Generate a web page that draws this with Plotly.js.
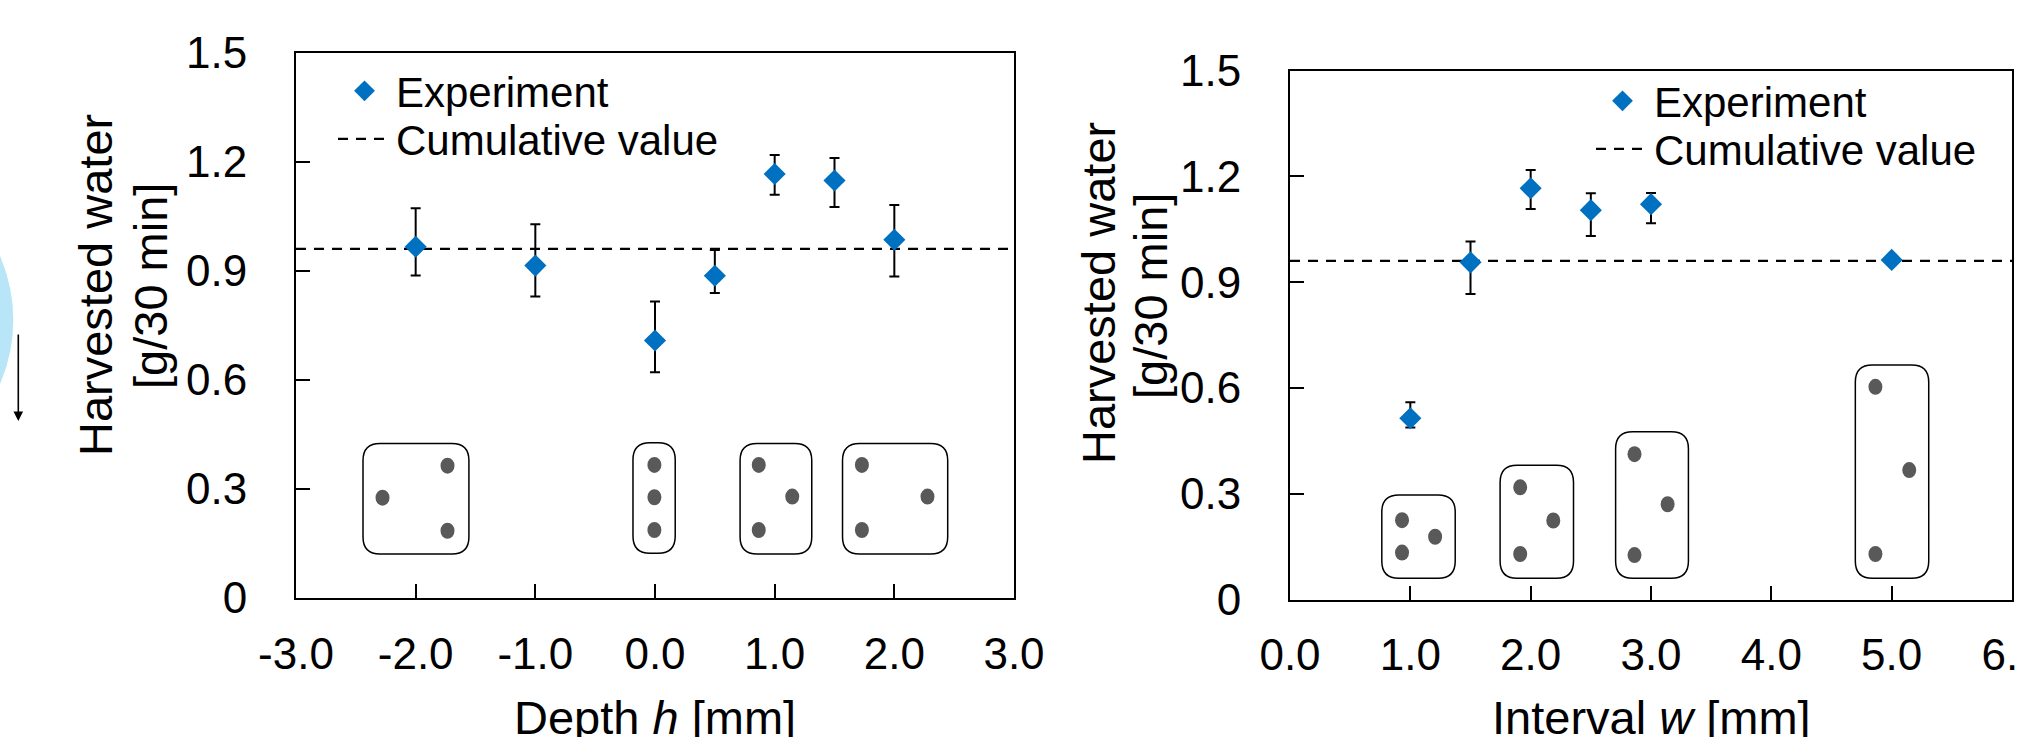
<!DOCTYPE html>
<html>
<head>
<meta charset="utf-8">
<script src="https://cdn.plot.ly/plotly-3.0.1.min.js"></script>
<style>
  html, body { margin: 0; padding: 0; background: #ffffff; }
  #chart { width: 2018px; height: 737px; }
</style>
</head>
<body>
<div id="chart"></div>
<script>
// ---------------- DATA ----------------
// Left panel: Depth h [mm]
const depthX        = [-2.0, -1.0, 0.0, 0.5, 1.0, 1.5, 2.0];
const depthWater    = [0.966, 0.914, 0.708, 0.886, 1.166, 1.148, 0.985];
const depthErrPlus  = [0.106, 0.114, 0.107, 0.071, 0.052, 0.062, 0.096];
const depthErrMinus = [0.079, 0.085, 0.087, 0.047, 0.057, 0.073, 0.101];

// Right panel: Interval w [mm]
const intervalX        = [1.0, 1.5, 2.0, 2.5, 3.0, 5.0];
const intervalWater    = [0.514, 0.956, 1.166, 1.104, 1.121, 0.963];
const intervalErrPlus  = [0.045, 0.059, 0.052, 0.048, 0.032, 0.0];
const intervalErrMinus = [0.026, 0.090, 0.059, 0.073, 0.054, 0.0];

// Cumulative value (dashed reference line), same in both panels
const cumulativeValue = 0.96;

// Axis ranges and tick labels
const depthRange      = [-3, 3];
const intervalRange   = [0, 6];
const waterRange      = [0, 1.5];
const depthTickVals   = [-3, -2, -1, 0, 1, 2, 3];
const depthTickText   = ['-3.0', '-2.0', '-1.0', '0.0', '1.0', '2.0', '3.0'];
const intervalTickVals = [0, 1, 2, 3, 4, 5, 6];
const intervalTickText = ['0.0', '1.0', '2.0', '3.0', '4.0', '5.0', '6.0'];
const waterTickVals   = [0, 0.3, 0.6, 0.9, 1.2, 1.5];
const waterTickText   = ['0', '0.3', '0.6', '0.9', '1.2', '1.5'];

// Text
const seriesExperiment = 'Experiment';
const seriesCumulative = 'Cumulative value';
const yTitleLine1 = 'Harvested water';
const yTitleLine2 = '[g/30 min]';
const xTitleDepth = 'Depth <i>h</i> [mm]';
const xTitleInterval = 'Interval <i>w</i> [mm]';

// ---------------- Decorative inset sketches (illustrations of pin layouts) ----------------
// boxes: [x0, x1, y0, y1] in axis units; dots: [x, y] in axis units
const depthInsets = [
  { box: [-2.44, -1.555, 0.121, 0.425], dots: [[-2.277, 0.276], [-1.734, 0.364], [-1.734, 0.185]] },
  { box: [-0.184, 0.169, 0.123, 0.427], dots: [[-0.005, 0.366], [-0.005, 0.277], [-0.005, 0.187]] },
  { box: [0.711, 1.31, 0.121, 0.425],   dots: [[0.867, 0.366], [1.147, 0.279], [0.867, 0.187]] },
  { box: [1.567, 2.446, 0.121, 0.425],  dots: [[1.729, 0.366], [2.277, 0.279], [1.729, 0.187]] }
];
const intervalInsets = [
  { box: [0.763, 1.373, 0.060, 0.296], dots: [[0.931, 0.225], [0.931, 0.133], [1.206, 0.178]] },
  { box: [1.746, 2.356, 0.060, 0.381], dots: [[1.913, 0.318], [1.913, 0.129], [2.188, 0.224]] },
  { box: [2.706, 3.311, 0.060, 0.476], dots: [[2.863, 0.412], [2.863, 0.126], [3.138, 0.270]] },
  { box: [4.698, 5.308, 0.060, 0.665], dots: [[4.865, 0.603], [4.865, 0.129], [5.146, 0.367]] }
];

// ---------------- LAYOUT GEOMETRY (pixels) ----------------
const W = 2018, H = 737;
const FONT = 'Arial, "Liberation Sans", Helvetica, sans-serif';
const BLUE = '#0070C0';
const DOT = '#595959';

const leftPlot  = { x0: 296,  x1: 1014, yTop: 52.5, yBot: 598 };
const rightPlot = { x0: 1290, x1: 2012, yTop: 70.5, yBot: 599.5 };

const px = v => v / W;
const py = v => 1 - v / H;

function roundedRect(b, rPx, plot, xr, yr) {
  const pxPerX = (plot.x1 - plot.x0) / (xr[1] - xr[0]);
  const pxPerY = (plot.yBot - plot.yTop) / (yr[1] - yr[0]);
  const [x0, x1, y0, y1] = b;
  const rx = rPx / pxPerX, ry = rPx / pxPerY;
  return 'M' + (x0 + rx) + ',' + y1 +
    ' L' + (x1 - rx) + ',' + y1 +
    ' Q' + x1 + ',' + y1 + ' ' + x1 + ',' + (y1 - ry) +
    ' L' + x1 + ',' + (y0 + ry) +
    ' Q' + x1 + ',' + y0 + ' ' + (x1 - rx) + ',' + y0 +
    ' L' + (x0 + rx) + ',' + y0 +
    ' Q' + x0 + ',' + y0 + ' ' + x0 + ',' + (y0 + ry) +
    ' L' + x0 + ',' + (y1 - ry) +
    ' Q' + x0 + ',' + y1 + ' ' + (x0 + rx) + ',' + y1 + ' Z';
}

function insetShapes(insets, xref, yref, plot, xr, yr) {
  const out = [];
  insets.forEach(ins => {
    const w = (ins.box[1] - ins.box[0]) * (plot.x1 - plot.x0) / (xr[1] - xr[0]);
    const r = Math.min(17, w / 2 - 1);
    out.push({
      type: 'path', xref: xref, yref: yref,
      path: roundedRect(ins.box, r, plot, xr, yr),
      line: { color: '#000000', width: 1.5 }, fillcolor: 'rgba(255,255,255,0)', layer: 'above'
    });
    ins.dots.forEach(d => {
      out.push({
        type: 'circle', xref: xref, yref: yref,
        xsizemode: 'pixel', ysizemode: 'pixel',
        xanchor: d[0], yanchor: d[1],
        x0: -7, x1: 7, y0: -8, y1: 8,
        fillcolor: DOT, line: { width: 0 }, layer: 'above'
      });
    });
  });
  return out;
}

// ---------------- TRACES ----------------
const traces = [
  {
    x: depthRange, y: [cumulativeValue, cumulativeValue],
    xaxis: 'x', yaxis: 'y', mode: 'lines', name: seriesCumulative, legend: 'legend2',
    line: { color: '#000000', width: 2.2, dash: '10px,8px' }, hoverinfo: 'skip'
  },
  {
    x: depthX, y: depthWater,
    xaxis: 'x', yaxis: 'y', mode: 'markers', name: seriesExperiment, legend: 'legend',
    marker: { symbol: 'diamond', size: 17, color: BLUE, line: { width: 0 } },
    error_y: { type: 'data', symmetric: false, array: depthErrPlus, arrayminus: depthErrMinus,
               color: '#000000', thickness: 2, width: 5 }
  },
  {
    x: intervalRange, y: [cumulativeValue, cumulativeValue],
    xaxis: 'x2', yaxis: 'y2', mode: 'lines', name: seriesCumulative, legend: 'legend4',
    line: { color: '#000000', width: 2.2, dash: '10px,8px' }, hoverinfo: 'skip'
  },
  {
    x: intervalX, y: intervalWater,
    xaxis: 'x2', yaxis: 'y2', mode: 'markers', name: seriesExperiment, legend: 'legend3',
    marker: { symbol: 'diamond', size: 17, color: BLUE, line: { width: 0 } },
    error_y: { type: 'data', symmetric: false, array: intervalErrPlus, arrayminus: intervalErrMinus,
               color: '#000000', thickness: 2, width: 5 }
  }
];

// ---------------- AXES ----------------
function xAxis(plot, range, vals, text, anchor) {
  return {
    domain: [px(plot.x0), px(plot.x1)], range: range, anchor: anchor,
    tickmode: 'array', tickvals: vals, ticktext: text,
    ticks: 'inside', ticklen: 14, tickwidth: 2, tickcolor: '#000',
    showline: true, linecolor: '#000', linewidth: 2, mirror: true,
    showgrid: false, zeroline: false,
    tickfont: { family: FONT, size: 44, color: '#000' },
    ticklabelstandoff: 16, ticklabeloverflow: 'allow', fixedrange: true
  };
}
function yAxis(plot, anchor) {
  return {
    domain: [py(plot.yBot), py(plot.yTop)], range: waterRange, anchor: anchor,
    tickmode: 'array', tickvals: waterTickVals, ticktext: waterTickText,
    ticks: 'inside', ticklen: 14, tickwidth: 2, tickcolor: '#000',
    showline: true, linecolor: '#000', linewidth: 2, mirror: true,
    showgrid: false, zeroline: false,
    tickfont: { family: FONT, size: 44, color: '#000' },
    ticklabelstandoff: 38, ticklabeloverflow: 'allow', fixedrange: true
  };
}

function legendAt(xPix, yPix) {
  return {
    x: px(xPix), y: py(yPix), xanchor: 'left', yanchor: 'middle',
    xref: 'paper', yref: 'paper',
    font: { family: FONT, size: 42, color: '#000' },
    bgcolor: 'rgba(0,0,0,0)', borderwidth: 0, itemwidth: 53,
    itemclick: false, itemdoubleclick: false
  };
}

const annotations = [
  // y-axis titles (two lines each)
  { text: yTitleLine1, xref: 'paper', yref: 'paper', x: px(95), y: py(285), textangle: -90,
    showarrow: false, xanchor: 'center', yanchor: 'middle', font: { family: FONT, size: 47, color: '#000' } },
  { text: yTitleLine2, xref: 'paper', yref: 'paper', x: px(150), y: py(286), textangle: -90,
    showarrow: false, xanchor: 'center', yanchor: 'middle', font: { family: FONT, size: 47, color: '#000' } },
  { text: yTitleLine1, xref: 'paper', yref: 'paper', x: px(1098), y: py(293), textangle: -90,
    showarrow: false, xanchor: 'center', yanchor: 'middle', font: { family: FONT, size: 47, color: '#000' } },
  { text: yTitleLine2, xref: 'paper', yref: 'paper', x: px(1151), y: py(296), textangle: -90,
    showarrow: false, xanchor: 'center', yanchor: 'middle', font: { family: FONT, size: 47, color: '#000' } },
  // x-axis titles
  { text: xTitleDepth, xref: 'paper', yref: 'paper', x: px(655), y: py(717), showarrow: false,
    xanchor: 'center', yanchor: 'middle', font: { family: FONT, size: 47, color: '#000' } },
  { text: xTitleInterval, xref: 'paper', yref: 'paper', x: px(1651), y: py(717), showarrow: false,
    xanchor: 'center', yanchor: 'middle', font: { family: FONT, size: 47, color: '#000' } },
  // arrow fragment at the far left (from the neighbouring panel)
  { text: '', xref: 'paper', yref: 'paper', x: px(18.3), y: py(421), showarrow: true,
    axref: 'pixel', ayref: 'pixel', ax: 0, ay: -88, arrowhead: 2, arrowsize: 1.2,
    arrowwidth: 1.6, arrowcolor: '#000' }
];

const shapes = [
  // light-blue fragment at the far left edge (neighbouring panel)
  { type: 'circle', xref: 'paper', yref: 'paper',
    x0: px(-308), x1: px(13.3), y0: py(481), y1: py(159),
    fillcolor: '#b8e6f8', line: { width: 0 }, layer: 'below' }
].concat(
  insetShapes(depthInsets, 'x', 'y', leftPlot, depthRange, waterRange),
  insetShapes(intervalInsets, 'x2', 'y2', rightPlot, intervalRange, waterRange)
);

const layout = {
  width: W, height: H,
  margin: { l: 0, r: 0, t: 0, b: 0, pad: 0 },
  paper_bgcolor: '#ffffff', plot_bgcolor: 'rgba(0,0,0,0)',
  font: { family: FONT, color: '#000' },
  xaxis:  xAxis(leftPlot, depthRange, depthTickVals, depthTickText, 'y'),
  yaxis:  yAxis(leftPlot, 'x'),
  xaxis2: xAxis(rightPlot, intervalRange, intervalTickVals, intervalTickText, 'y2'),
  yaxis2: yAxis(rightPlot, 'x2'),
  legend:  legendAt(333, 91),
  legend2: legendAt(333, 139),
  legend3: legendAt(1591, 101),
  legend4: legendAt(1591, 149),
  annotations: annotations,
  shapes: shapes,
  showlegend: true
};

Plotly.newPlot('chart', traces, layout, { displayModeBar: false, staticPlot: true });
</script>
</body>
</html>
